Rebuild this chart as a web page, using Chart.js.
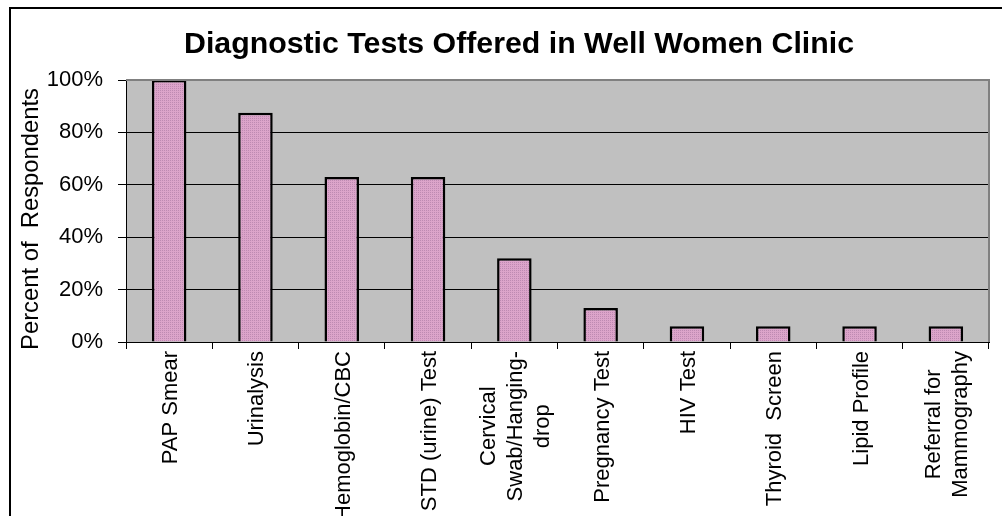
<!DOCTYPE html>
<html><head><meta charset="utf-8">
<script src="https://cdn.jsdelivr.net/npm/chart.js@4"></script>
<style>html,body{margin:0;padding:0;background:#fff;overflow:hidden}#wrap{width:1002px;height:516px;position:relative}</style>
</head><body><div id="wrap"><canvas id="c" width="1002" height="516"></canvas></div>
<script>
const titleText = 'Diagnostic Tests Offered in Well Women Clinic';
const yAxisTitle = 'Percent of  Respondents';
const categories = [['PAP Smear'], ['Urinalysis'], ['Hemoglobin/CBC'], ['STD (urine) Test'], ['Cervical', 'Swab/Hanging-', 'drop'], ['Pregnancy Test'], ['HIV Test'], ['Thyroid  Screen'], ['Lipid Profile'], ['Referral for', 'Mammography']];
const percentValues = [100, 87.5, 63, 63, 32, 13, 6, 6, 6, 6];
const yTickValues = [0, 20, 40, 60, 80, 100];

function makePattern() {
  const p = document.createElement('canvas');
  p.width = 4; p.height = 4;
  const g = p.getContext('2d');
  g.fillStyle = '#DCA4CA';
  g.fillRect(0, 0, 4, 4);
  g.fillStyle = '#BE8AB2';
  g.fillRect(0, 0, 1, 1); g.fillRect(2, 2, 1, 1);
  g.fillRect(2, 0, 1, 1); g.fillRect(0, 2, 1, 1);
  return document.getElementById('c').getContext('2d').createPattern(p, 'repeat');
}

const decor = {
  id: 'decor',
  beforeDraw(chart) {
    const ctx = chart.ctx, a = chart.chartArea;
    ctx.save();
    ctx.fillStyle = '#fff';
    ctx.fillRect(0, 0, chart.width, chart.height);
    ctx.fillStyle = '#C0C0C0';
    ctx.fillRect(a.left, a.top, a.right - a.left, a.bottom - a.top);
    ctx.restore();
  },
  afterDraw(chart) {
    const ctx = chart.ctx, a = chart.chartArea;
    const xs = chart.scales.x;
    ctx.save();
    ctx.fillStyle = '#000';
    ctx.fillRect(9, 7, 2, chart.height - 7);
    ctx.fillRect(9, 7, chart.width - 9, 2);
    ctx.fillStyle = '#808080';
    ctx.fillRect(a.left, a.top - 1, a.right - a.left + 1, 2);
    ctx.fillRect(a.right - 1, a.top - 1, 2, a.bottom - a.top + 1);
    ctx.fillStyle = '#000';
    ctx.font = 'bold 30.3px "Liberation Sans", Arial, sans-serif';
    ctx.textAlign = 'center';
    ctx.textBaseline = 'alphabetic';
    ctx.fillText(titleText, 519, 53);
    ctx.font = '23.8px "Liberation Sans", Arial, sans-serif';
    ctx.save();
    ctx.translate(38, 219);
    ctx.rotate(-Math.PI / 2);
    ctx.fillText(yAxisTitle, 0, 0);
    ctx.restore();
    ctx.font = '22px "Liberation Sans", Arial, sans-serif';
    const lineH = 27;
    categories.forEach((lines, i) => {
      const cx = xs.getPixelForTick(i);
      const maxW = Math.max(...lines.map(l => ctx.measureText(l).width));
      const cy = a.bottom + 9 + maxW / 2;
      lines.forEach((l, j) => {
        const bx = cx + 8 + (j - (lines.length - 1) / 2) * lineH;
        ctx.save();
        ctx.translate(bx, cy);
        ctx.rotate(-Math.PI / 2);
        ctx.textAlign = 'center';
        ctx.fillText(l, 0, 0);
        ctx.restore();
      });
    });
    ctx.restore();
  }
};

new Chart(document.getElementById('c'), {
  type: 'bar',
  data: {
    labels: categories,
    datasets: [{
      data: percentValues,
      backgroundColor: makePattern(),
      borderColor: '#000',
      borderWidth: 2.5,
      barPercentage: 0.4,
      categoryPercentage: 1,
      clip: false
    }]
  },
  options: {
    responsive: false,
    devicePixelRatio: 1,
    animation: false,
    layout: { padding: { top: 80, right: 13, left: 0, bottom: 0 } },
    plugins: { legend: { display: false }, title: { display: false }, tooltip: { enabled: false } },
    scales: {
      x: {
        grid: { offset: true, drawOnChartArea: false, color: '#000', tickLength: 7 },
        border: { color: '#000', width: 1 },
        ticks: { display: false },
        afterFit(s) { s.height = 174; }
      },
      y: {
        min: 0, max: 100,
        afterBuildTicks(s) { s.ticks = yTickValues.map(v => ({ value: v })); },
        ticks: {
          callback: v => v + '%',
          font: { family: '"Liberation Sans", Arial, sans-serif', size: 22 },
          color: '#000',
          padding: 15
        },
        grid: {
          color: c => (c.tick && c.tick.value === 100) ? 'rgba(0,0,0,0)' : '#000',
          tickColor: '#000',
          tickLength: 8
        },
        border: { color: '#000', width: 1 },
        afterFit(s) { s.width = 126; }
      }
    }
  },
  plugins: [decor]
});
</script>
</body></html>
